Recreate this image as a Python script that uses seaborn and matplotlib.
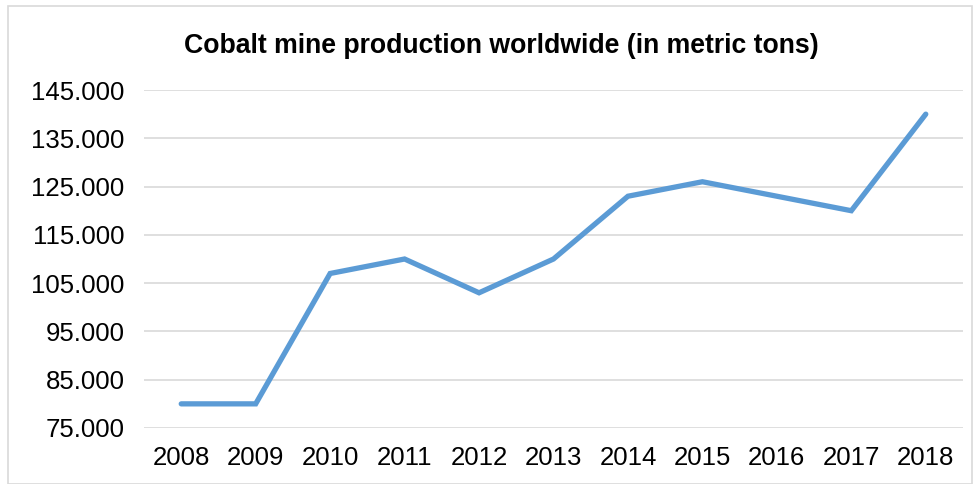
import matplotlib
matplotlib.use("Agg")
import matplotlib.pyplot as plt
import seaborn as sns
import pandas as pd
from matplotlib.patches import Rectangle
from matplotlib.ticker import FuncFormatter

years = ["2008", "2009", "2010", "2011", "2012", "2013", "2014", "2015", "2016", "2017", "2018"]
production = [80000, 80000, 107000, 110000, 103000, 110000, 123000, 126000, 123000, 120000, 140000]
y_ticks = [75000, 85000, 95000, 105000, 115000, 125000, 135000, 145000]

sns.set_theme(style="white")
plt.rcParams['font.family'] = ['Liberation Sans', 'DejaVu Sans']

df = pd.DataFrame({"year": years, "production": production})

fig = plt.figure(figsize=(9.78, 4.84), dpi=100)
ax = fig.add_axes([144/978, 1-428/484, (963-144)/978, (428-90)/484])

sns.lineplot(data=df, x="year", y="production", ax=ax, color="#5B9BD5",
             linewidth=3.8, sort=False, solid_capstyle="round", solid_joinstyle="miter", zorder=3)

ax.set_xlim(-0.5, len(years) - 0.5)
ax.set_ylim(75000, 145000)
ax.set_yticks(y_ticks)
ax.yaxis.set_major_formatter(FuncFormatter(lambda v, p: f"{int(v):,}".replace(",", ".")))
ax.grid(axis="y", color="#D9D9D9", linewidth=1.2)
ax.grid(axis="x", visible=False)
for s in ax.spines.values():
    s.set_visible(False)
ax.set_xlabel("")
ax.set_ylabel("")
ax.tick_params(axis="y", labelsize=18.5, pad=14, length=0, colors="#000000")
ax.tick_params(axis="x", labelsize=18.5, pad=13, length=0, colors="#000000")

fig.text(501/978, 1-46/484, "Cobalt mine production worldwide (in metric tons)",
         ha="center", va="center", fontsize=19.2, fontweight="bold", color="#000000")

fig.patches.append(Rectangle((8/978, 0), (972-8)/978, 1-6/484, transform=fig.transFigure,
                             fill=False, edgecolor="#D9D9D9", linewidth=1.2))

fig.savefig("out.png", dpi=100)
